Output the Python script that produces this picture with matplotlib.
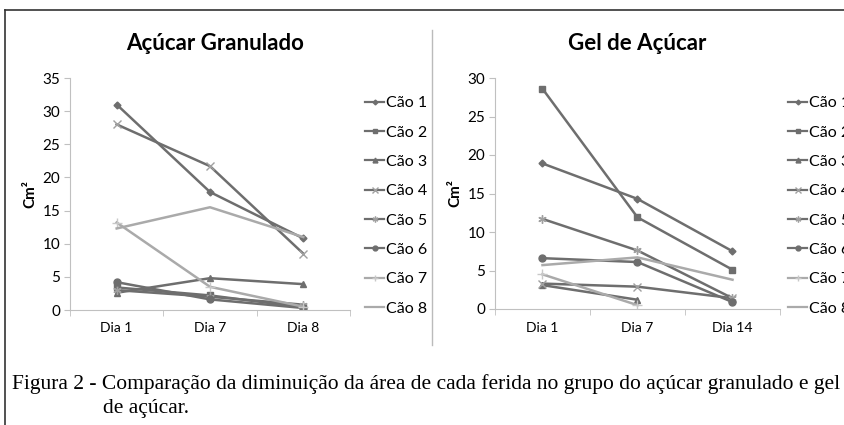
import numpy as np
import matplotlib.pyplot as plt
from matplotlib.lines import Line2D

# data
caes = ['Cão 1', 'Cão 2', 'Cão 3', 'Cão 4', 'Cão 5', 'Cão 6', 'Cão 7', 'Cão 8']
dias_gran = ['Dia 1', 'Dia 7', 'Dia 8']
dias_gel = ['Dia 1', 'Dia 7', 'Dia 14']

gran_c1 = [31.0, 17.8, 10.8]
gran_c2 = [3.4, 2.2, 0.4]
gran_c3 = [2.6, 4.8, 3.9]
gran_c4 = [28.0, 21.7, 8.5]
gran_c5 = [3.0, 2.0, 0.8]
gran_c6 = [4.2, 1.6, 0.3]
gran_c7 = [13.2, 3.5, 0.5]
gran_c8 = [12.3, 15.5, 11.0]

gel_c1 = [18.9, 14.3, 7.5]
gel_c2 = [28.6, 11.9, 5.1]
gel_c3 = [3.1, 1.2, np.nan]
gel_c4 = [3.3, 2.9, 1.4]
gel_c5 = [11.7, 7.6, 1.4]
gel_c6 = [6.6, 6.1, 0.9]
gel_c7 = [4.5, 0.5, np.nan]
gel_c8 = [5.7, 6.7, 3.8]

gran = [gran_c1, gran_c2, gran_c3, gran_c4, gran_c5, gran_c6, gran_c7, gran_c8]
gel = [gel_c1, gel_c2, gel_c3, gel_c4, gel_c5, gel_c6, gel_c7, gel_c8]

dark = '#6e6e6e'
light = '#aaaaaa'
styles = [
    dict(color=dark, marker='D', ms=3.5),
    dict(color=dark, marker='s', ms=5),
    dict(color=dark, marker='^', ms=5),
    dict(color=dark, marker='x', ms=6, mec='#a0a0a0'),
    dict(color=dark, marker=(6, 2, 0), ms=6, mec='#a0a0a0'),
    dict(color=dark, marker='o', ms=5),
    dict(color=light, marker='+', ms=7, mec='#c8c8c8'),
    dict(color=light, marker=None),
]

plt.rcParams['font.family'] = ['Lato', 'DejaVu Sans']

fig = plt.figure(figsize=(8.45, 4.25), dpi=100)
W, H = 845, 425


def draw(rect, series, cats, ymax, title, title_x, leg_x):
    ax = fig.add_axes(rect)
    x = np.arange(len(cats))
    for vals, st in zip(series, styles):
        ax.plot(x, vals, lw=1.8, **st)
    ax.set_xlim(-0.5, len(cats) - 0.5)
    ax.set_ylim(0, ymax)
    ax.set_yticks(np.arange(0, ymax + 1, 5))
    ax.set_xticks(x)
    ax.set_xticklabels(cats, fontsize=10)
    ax.set_xticks(np.arange(-0.5, len(cats)), minor=True)
    ax.tick_params(axis='x', which='major', length=0, pad=9)
    ax.tick_params(axis='x', which='minor', length=4, color='#c0c0c0')
    ax.tick_params(axis='y', length=4, color='#c0c0c0', labelsize=11, pad=3)
    for s in ['top', 'right']:
        ax.spines[s].set_visible(False)
    for s in ['left', 'bottom']:
        ax.spines[s].set_color('#c0c0c0')
    ax.set_ylabel('Cm²', fontsize=11, fontweight='bold', labelpad=4)
    fig.text(title_x / W, 1 - 44 / H, title, fontsize=16, fontweight='bold',
             ha='center', va='center')
    handles = [Line2D([], [], lw=1.6, **st) for st in styles]
    fig.legend(handles, caes, loc='upper left',
               bbox_to_anchor=(leg_x / W, 1 - 96 / H), frameon=False,
               fontsize=11.5, handlelength=1.2, handletextpad=0.1,
               labelspacing=0.95, borderpad=0, borderaxespad=0,
               markerscale=0.7)
    return ax


draw([70 / W, 1 - 310 / H, 280 / W, 232 / H], gran, dias_gran, 35,
     'Açúcar Granulado', 215, 365)
draw([495 / W, 1 - 309 / H, 285 / W, 231 / H], gel, dias_gel, 30,
     'Gel de Açúcar', 637, 788)

# frame and divider
fig.add_artist(Line2D([5 / W, 1], [1 - 10 / H, 1 - 10 / H], color='#333333', lw=1.2))
fig.add_artist(Line2D([5 / W, 5 / W], [0, 1 - 10 / H], color='#333333', lw=1.2))
fig.add_artist(Line2D([432 / W, 432 / W], [1 - 345 / H, 1 - 30 / H], color='#bbbbbb', lw=1))

fig.text(12 / W, 1 - 384 / H,
         'Figura 2 - Comparação da diminuição da área de cada ferida no grupo do açúcar granulado e gel',
         family='Liberation Serif', fontsize=15.5, va='center')
fig.text(103 / W, 1 - 408 / H, 'de açúcar.', family='Liberation Serif',
         fontsize=15.5, va='center')

fig.savefig('out.png', dpi=100)
